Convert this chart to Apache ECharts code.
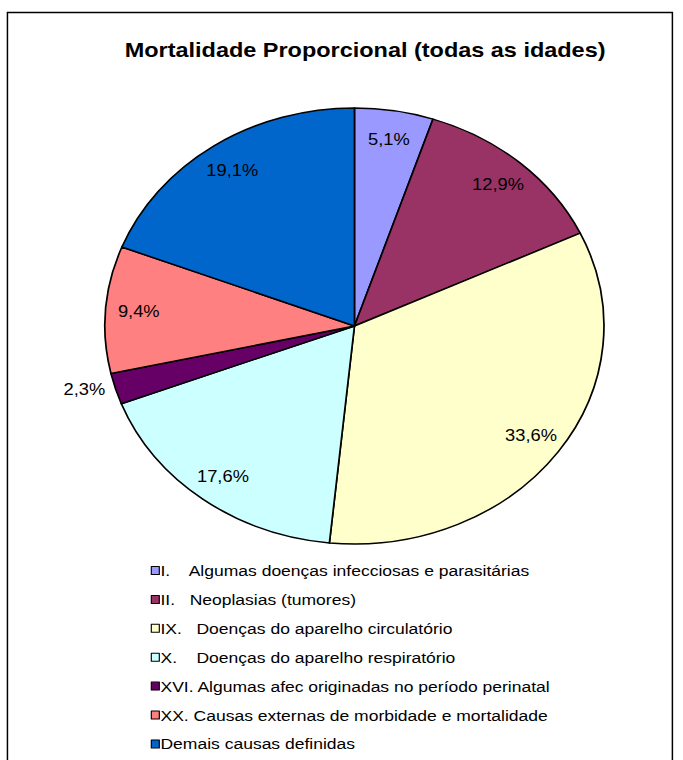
<!DOCTYPE html>
<html>
<head>
<meta charset="utf-8">
<script src="https://cdn.jsdelivr.net/npm/echarts@6/dist/echarts.min.js"></script>
<style>
  html, body { margin: 0; padding: 0; background: #fff; }
  /* the original picture is stretched sideways, so the whole chart is too */
  #chart { width: 597px; height: 760px; transform: scaleX(1.1445); transform-origin: 0 0; }
</style>
</head>
<body>
<div id="chart"></div>
<script>
var categories = [
  "I.    Algumas doenças infecciosas e parasitárias",
  "II.   Neoplasias (tumores)",
  "IX.   Doenças do aparelho circulatório",
  "X.    Doenças do aparelho respiratório",
  "XVI. Algumas afec originadas no período perinatal",
  "XX. Causas externas de morbidade e mortalidade",
  "Demais causas definidas"
];
var values = [5.1, 12.9, 33.6, 17.6, 2.3, 9.4, 19.1];
var palette = ["#9999FF", "#993366", "#FFFFCC", "#CCFFFF", "#660066", "#FF8080", "#0066CC"];

var font = "'Liberation Sans', Arial, sans-serif";
var center = [309.7, 326];
var R = 218;

document.addEventListener("DOMContentLoaded", function () {
  var myChart = echarts.init(document.getElementById("chart"), null, { renderer: "svg" });

  var pieData = categories.map(function (name, i) {
    return { name: name, value: values[i] };
  });
  // small slices get their label outside, like Excel's best fit
  var labelData = categories.map(function (name, i) {
    var item = { name: name, value: values[i] };
    if (values[i] < 3) item.label = { position: "outside" };
    return item;
  });

  var option = {
    animation: false,
    color: palette,
    title: {
      text: "Mortalidade Proporcional (todas as idades)",
      left: 104,
      top: 35,
      textStyle: { fontFamily: font, fontSize: 20.5, fontWeight: "bold", color: "#000" }
    },
    legend: {
      orient: "vertical",
      left: 131.7,
      top: 563,
      padding: 0,
      itemGap: 13.9,
      itemWidth: 7,
      itemHeight: 8,
      icon: "rect",
      selectedMode: false,
      itemStyle: { borderColor: "#000", borderWidth: 1 },
      textStyle: { fontFamily: font, fontSize: 15.3, color: "#000", padding: [0, 0, 0, -4] },
      data: categories
    },
    graphic: [
      {
        type: "polyline",
        shape: { points: [[6.5, 770], [6.5, 12.5], [587.5, 12.5], [587.5, 770]] },
        style: { stroke: "#000", lineWidth: 1.3, fill: null },
        silent: true
      }
    ],
    series: [
      {
        type: "pie",
        center: center,
        radius: [0, R],
        startAngle: 90,
        silent: true,
        label: { show: false },
        labelLine: { show: false },
        itemStyle: { borderColor: "#000", borderWidth: 1.5 },
        data: pieData
      },
      {
        // transparent ring that only carries the percentage labels
        type: "pie",
        center: center,
        radius: [154, R],
        startAngle: 90,
        silent: true,
        avoidLabelOverlap: false,
        itemStyle: { color: "rgba(0,0,0,0)", borderWidth: 0 },
        label: {
          show: true,
          position: "inside",
          fontFamily: font,
          fontSize: 16,
          color: "#000",
          formatter: function (p) {
            return p.value.toFixed(1).replace(".", ",") + "%";
          }
        },
        labelLine: { show: false, length: 2, length2: 2 },
        data: labelData
      }
    ]
  };

  myChart.setOption(option);
});
</script>
</body>
</html>
